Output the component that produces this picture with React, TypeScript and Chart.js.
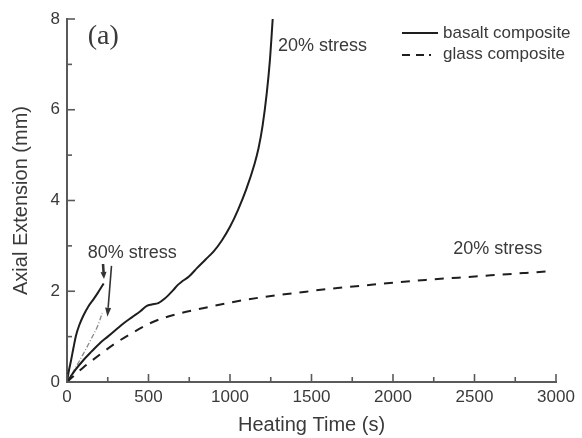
import React, { useEffect, useRef } from "react";
import { Chart, registerables } from "chart.js";

Chart.register(...registerables);

// ---- Data ----
const basalt20Time = [0, 50, 100, 150, 200, 250, 300, 350, 400, 450, 490, 520, 560, 600, 650, 680, 700, 750, 800, 850, 900, 950, 1000, 1050, 1100, 1150, 1175, 1200, 1225, 1245, 1262];
const basalt20Ext = [0, 0.26, 0.48, 0.67, 0.85, 1.0, 1.15, 1.3, 1.43, 1.56, 1.68, 1.71, 1.74, 1.84, 2.02, 2.14, 2.2, 2.33, 2.52, 2.7, 2.88, 3.12, 3.42, 3.8, 4.25, 4.8, 5.15, 5.65, 6.35, 7.1, 8.0];

const basalt80Time = [0, 10, 25, 40, 55, 75, 100, 130, 160, 190, 225];
const basalt80Ext = [0, 0.22, 0.48, 0.76, 1.02, 1.25, 1.46, 1.66, 1.81, 1.97, 2.17];

const glass20Time = [0, 100, 200, 300, 400, 500, 600, 700, 800, 1000, 1200, 1400, 1600, 1800, 2000, 2200, 2400, 2600, 2800, 2960];
const glass20Ext = [0, 0.32, 0.6, 0.86, 1.08, 1.28, 1.42, 1.52, 1.6, 1.75, 1.87, 1.96, 2.05, 2.12, 2.19, 2.25, 2.3, 2.35, 2.4, 2.44];

const glass80Time = [0, 50, 100, 150, 190, 216];
const glass80Ext = [0, 0.3, 0.62, 0.96, 1.25, 1.52];

const xTickValues = [0, 500, 1000, 1500, 2000, 2500, 3000];
const xMinorTicks = [250, 750, 1250, 1750, 2250, 2750];
const yTickValues = [0, 2, 4, 6, 8];
const yMinorTicks = [1, 3, 5, 7];

const legendLabels = ["basalt composite", "glass composite"];

const annotationTexts = [
  { text: "20% stress", t: 1294, v: 7.4 },
  { text: "20% stress", t: 2369, v: 2.92 },
  { text: "80% stress", t: 127, v: 2.85 },
];
const panelLabel = { text: "(a)", t: 127, v: 7.61 };

const arrows = [
  { from: [221, 2.6], to: [227, 2.27] },
  { from: [273, 2.56], to: [248, 1.44] },
];

// ---- Styles ----
const textColor = "#3a3a3a";
const axisColor = "#5a5a5a";
const lineColor = "#1e1e1e";
const sans = "'Liberation Sans', Arial, sans-serif";

const toPts = (ts: number[], vs: number[]) => ts.map((t, i) => ({ x: t, y: vs[i] }));

const overlayPlugin = {
  id: "overlay",
  afterDraw(chart: any) {
    const { ctx, chartArea, scales } = chart;
    const x = scales.x;
    const y = scales.y;
    ctx.save();
    ctx.strokeStyle = axisColor;
    ctx.lineWidth = 1.6;
    const drawLine = (x1: number, y1: number, x2: number, y2: number) => {
      ctx.beginPath();
      ctx.moveTo(x1, y1);
      ctx.lineTo(x2, y2);
      ctx.stroke();
    };
    xTickValues.forEach((v) => {
      const px = x.getPixelForValue(v);
      drawLine(px, chartArea.bottom, px, chartArea.bottom - 8);
    });
    xMinorTicks.forEach((v) => {
      const px = x.getPixelForValue(v);
      drawLine(px, chartArea.bottom, px, chartArea.bottom - 5);
    });
    yTickValues.forEach((v) => {
      const py = y.getPixelForValue(v);
      drawLine(chartArea.left, py, chartArea.left + 8, py);
    });
    yMinorTicks.forEach((v) => {
      const py = y.getPixelForValue(v);
      drawLine(chartArea.left, py, chartArea.left + 5, py);
    });

    ctx.fillStyle = textColor;
    ctx.textBaseline = "middle";
    ctx.textAlign = "left";
    ctx.font = `18px ${sans}`;
    annotationTexts.forEach((a) => {
      ctx.fillText(a.text, x.getPixelForValue(a.t), y.getPixelForValue(a.v));
    });
    ctx.font = `28px 'Liberation Serif', 'Times New Roman', serif`;
    ctx.fillText(panelLabel.text, x.getPixelForValue(panelLabel.t), y.getPixelForValue(panelLabel.v));

    ctx.strokeStyle = "#333";
    ctx.fillStyle = "#333";
    arrows.forEach((a, i) => {
      const x1 = x.getPixelForValue(a.from[0]);
      const y1 = y.getPixelForValue(a.from[1]);
      const x2 = x.getPixelForValue(a.to[0]);
      const y2 = y.getPixelForValue(a.to[1]);
      const ang = Math.atan2(y2 - y1, x2 - x1);
      const head = i === 0 ? 7 : 9;
      const hw = 3;
      ctx.lineWidth = i === 0 ? 2.6 : 1.6;
      const bx = x2 - Math.cos(ang) * head;
      const by = y2 - Math.sin(ang) * head;
      drawLine(x1, y1, bx, by);
      ctx.beginPath();
      ctx.moveTo(x2, y2);
      ctx.lineTo(bx + Math.cos(ang + Math.PI / 2) * hw, by + Math.sin(ang + Math.PI / 2) * hw);
      ctx.lineTo(bx - Math.cos(ang + Math.PI / 2) * hw, by - Math.sin(ang + Math.PI / 2) * hw);
      ctx.closePath();
      ctx.fill();
    });

    ctx.strokeStyle = lineColor;
    ctx.lineWidth = 2;
    ctx.setLineDash([]);
    drawLine(402, 33, 438, 33);
    ctx.setLineDash([8, 6, 8, 5, 2, 100]);
    drawLine(402, 55, 438, 55);
    ctx.setLineDash([]);
    ctx.fillStyle = textColor;
    ctx.font = `17px ${sans}`;
    ctx.fillText(legendLabels[0], 443, 33);
    ctx.fillText(legendLabels[1], 443, 54);
    ctx.restore();
  },
};

export default function App() {
  const ref = useRef<HTMLCanvasElement | null>(null);
  useEffect(() => {
    if (!ref.current) return;
    const common = { pointRadius: 0, borderWidth: 2, fill: false, cubicInterpolationMode: "monotone" as const, showLine: true };
    const chart = new Chart(ref.current, {
      type: "scatter",
      data: {
        datasets: [
          { label: legendLabels[0], data: toPts(basalt20Time, basalt20Ext), borderColor: lineColor, ...common },
          { label: legendLabels[0] + " 80%", data: toPts(basalt80Time, basalt80Ext), borderColor: lineColor, ...common },
          { label: legendLabels[1], data: toPts(glass20Time, glass20Ext), borderColor: lineColor, borderDash: [9, 8], ...common },
          { label: legendLabels[1] + " 80%", data: toPts(glass80Time, glass80Ext), borderColor: "#8a8a8a", borderDash: [5, 2, 1, 2], ...common, borderWidth: 1.3 },
        ],
      },
      options: {
        animation: false,
        responsive: false,
        layout: { padding: { left: 0, right: 26, top: 19, bottom: 0 } },
        plugins: { legend: { display: false }, tooltip: { enabled: false } },
        scales: {
          x: {
            type: "linear",
            min: 0,
            max: 3000,
            afterFit: (s: any) => { s.height = 56; },
            afterBuildTicks: (s: any) => { s.ticks = xTickValues.map((v) => ({ value: v })); },
            grid: { display: true, drawOnChartArea: false, drawTicks: false },
            border: { display: true, color: axisColor, width: 2 },
            ticks: { padding: 5, color: textColor, font: { family: sans, size: 17 }, maxRotation: 0, autoSkip: false, callback: (v: any) => String(v) },
            title: { display: true, text: "Heating Time (s)", color: textColor, font: { family: sans, size: 20 }, padding: { top: 0, bottom: 1 } },
          },
          y: {
            type: "linear",
            min: 0,
            max: 8,
            afterFit: (s: any) => { s.width = 67; },
            afterBuildTicks: (s: any) => { s.ticks = yTickValues.map((v) => ({ value: v })); },
            grid: { display: true, drawOnChartArea: false, drawTicks: false },
            border: { display: true, color: axisColor, width: 2 },
            ticks: { padding: 7, color: textColor, font: { family: sans, size: 17 }, autoSkip: false, callback: (v: any) => String(v) },
            title: { display: true, text: "Axial Extension (mm)", color: textColor, font: { family: sans, size: 20 }, padding: { top: 9, bottom: 0 } },
          },
        },
      },
      plugins: [overlayPlugin],
    } as any);
    return () => chart.destroy();
  }, []);
  return (
    <div style={{ position: "absolute", left: 0, top: 0, width: 582, height: 438, background: "#fff" }}>
      <canvas ref={ref} width={582} height={438} style={{ display: "block" }} />
    </div>
  );
}
